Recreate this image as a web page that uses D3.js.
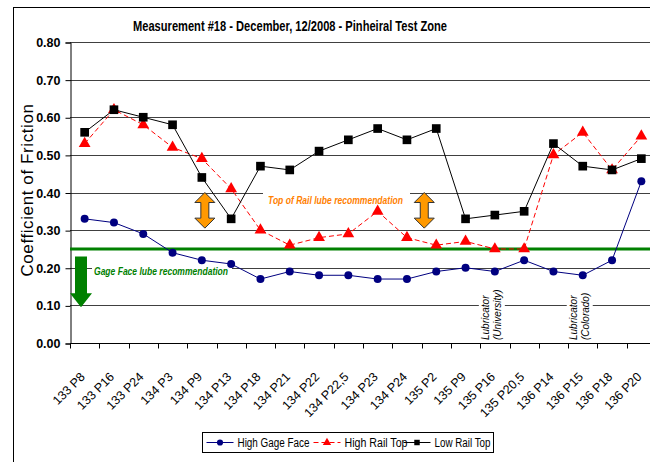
<!DOCTYPE html>
<html>
<head>
<meta charset="utf-8">
<script src="https://cdn.jsdelivr.net/npm/d3@7"></script>
<style>
  body { margin: 0; background: #fff; }
  svg { display: block; font-family: Arial, "Liberation Sans", sans-serif; }
</style>
</head>
<body>
<svg id="chart" width="650" height="462"></svg>
<script>
    // data
    var categories = ["133 P8", "133 P16", "133 P24", "134 P3", "134 P9", "134 P13", "134 P18", "134 P21",
        "134 P22", "134 P22,5", "134 P23", "134 P24", "135 P2", "135 P9", "135 P16", "135 P20,5",
        "136 P14", "136 P15", "136 P18", "136 P20"];
    var highGageFace = [0.33, 0.32, 0.29, 0.24, 0.22, 0.21, 0.17, 0.19, 0.18, 0.18, 0.17, 0.17, 0.19, 0.20, 0.19, 0.22, 0.19, 0.18, 0.22, 0.43];
    var highRailTop = [0.53, 0.62, 0.58, 0.52, 0.49, 0.41, 0.30, 0.26, 0.28, 0.29, 0.35, 0.28, 0.26, 0.27, 0.25, 0.25, 0.50, 0.56, 0.46, 0.55];
    var lowRailTop = [0.56, 0.62, 0.60, 0.58, 0.44, 0.33, 0.47, 0.46, 0.51, 0.54, 0.57, 0.54, 0.57, 0.33, 0.34, 0.35, 0.53, 0.47, 0.46, 0.49];
    var yTicks = [0, 0.1, 0.2, 0.3, 0.4, 0.5, 0.6, 0.7, 0.8];
    var gageLimit = 0.25;
    var railBand = [0.30, 0.40];
    var lubricators = [{ cat: "135 P16", name: "(University)" }, { cat: "136 P15", name: "(Colorado)" }];

    var plotLeft = 70, plotRight = 656, plotTop = 42, plotBottom = 343;

    var svg = d3.select("#chart");

    // outer chart border
    svg.append("rect")
        .attr("x", 13.5).attr("y", 7.5)
        .attr("width", 700).attr("height", 500)
        .style("fill", "none").style("stroke", "#000").style("stroke-width", 1);

    var x = d3.scaleBand().domain(categories).range([plotLeft, plotRight]);
    var y = d3.scaleLinear().domain([0, 0.8]).range([plotBottom, plotTop]);
    var cx = function (c) { return x(c) + x.bandwidth() / 2; };

    // title (narrow font squeezed to width)
    svg.append("text")
        .attr("x", 133).attr("y", 31)
        .attr("textLength", 314).attr("lengthAdjust", "spacingAndGlyphs")
        .style("font-weight", "bold")
        .style("font-size", "15px")
        .text("Measurement #18 - December, 12/2008 - Pinheiral Test Zone");

    // grid lines
    svg.append("g").selectAll("line")
        .data(yTicks.filter(function (d) { return d > 0; }))
        .enter().append("line")
        .attr("x1", plotLeft).attr("x2", plotRight)
        .attr("y1", function (d) { return Math.round(y(d)) + 0.5; })
        .attr("y2", function (d) { return Math.round(y(d)) + 0.5; })
        .style("stroke", "#404040").style("stroke-width", 1);

    // y axis
    var yAxis = svg.append("g")
        .attr("transform", "translate(" + (plotLeft + 0.5) + ",0.5)")
        .call(d3.axisLeft(y).tickValues(yTicks).tickFormat(d3.format(".2f")).tickSizeOuter(0).tickSize(5).tickPadding(5));
    yAxis.select(".domain").style("stroke", "#000");
    yAxis.selectAll("line").style("stroke", "#000");
    yAxis.selectAll("text")
        .style("font-family", "Arial, sans-serif")
        .style("font-weight", "bold")
        .style("font-size", "12.5px")
        .style("fill", "#000");

    // x axis with ticks on band edges
    var xAxis = svg.append("g")
        .attr("transform", "translate(0," + (plotBottom + 0.5) + ")");
    xAxis.append("line")
        .attr("x1", plotLeft).attr("x2", plotRight)
        .style("stroke", "#000");
    xAxis.selectAll("line.tick")
        .data(categories)
        .enter().append("line")
        .attr("class", "tick")
        .attr("x1", function (d) { return Math.round(x(d)) + 0.5; })
        .attr("x2", function (d) { return Math.round(x(d)) + 0.5; })
        .attr("y1", 0).attr("y2", 5)
        .style("stroke", "#000");
    xAxis.selectAll("text")
        .data(categories)
        .enter().append("text")
        .attr("transform", function (d) { return "translate(" + (cx(d) - 2) + ",31) rotate(-45)"; })
        .attr("text-anchor", "end")
        .attr("dy", "0.35em")
        .style("font-size", "12.5px")
        .text(function (d) { return d; });

    // y axis title
    svg.append("text")
        .attr("transform", "translate(33,190) rotate(-90)")
        .attr("text-anchor", "middle")
        .style("font-size", "17px")
        .style("letter-spacing", "0.6px")
        .text("Coefficient of Friction");

    // gage face limit
    svg.append("line")
        .attr("x1", plotLeft).attr("x2", plotRight)
        .attr("y1", y(gageLimit)).attr("y2", y(gageLimit))
        .style("stroke", "#008000").style("stroke-width", 3);

    // green down arrow
    var ga = { x: 81, y0: y(0.23), y1: y(0.095) };
    svg.append("path")
        .attr("d", "M" + (ga.x - 6) + "," + ga.y0 + "H" + (ga.x + 6) + "V" + (ga.y1 - 14) +
            "H" + (ga.x + 11) + "L" + ga.x + "," + ga.y1 + "L" + (ga.x - 11) + "," + (ga.y1 - 14) +
            "H" + (ga.x - 6) + "Z")
        .style("fill", "#008000");

    // gage face label with white box
    svg.append("rect")
        .attr("x", 92).attr("y", y(0.215))
        .attr("width", 140).attr("height", 17)
        .style("fill", "#fff");
    svg.append("text")
        .attr("x", 94).attr("y", y(0.18))
        .attr("textLength", 134).attr("lengthAdjust", "spacingAndGlyphs")
        .style("font-style", "italic").style("font-weight", "bold")
        .style("font-size", "11px")
        .style("fill", "#008000")
        .text("Gage Face lube recommendation");

    // top of rail label with white box
    svg.append("rect")
        .attr("x", 263).attr("y", y(0.405))
        .attr("width", 147).attr("height", 18)
        .style("fill", "#fff");
    svg.append("text")
        .attr("x", 268).attr("y", y(0.37))
        .attr("textLength", 135).attr("lengthAdjust", "spacingAndGlyphs")
        .style("font-style", "italic").style("font-weight", "bold")
        .style("font-size", "11px")
        .style("fill", "#ff8000")
        .text("Top of Rail lube recommendation");

    // orange double arrows
    [cx("134 P9") + 3, cx("135 P2") - 12].forEach(function (ax) {
        var t = y(railBand[1]), b = y(railBand[0]) - 2;
        svg.append("path")
            .attr("d", "M" + ax + "," + t + "L" + (ax + 10) + "," + (t + 10) + "H" + (ax + 4) +
                "V" + (b - 10) + "H" + (ax + 10) + "L" + ax + "," + b + "L" + (ax - 10) + "," + (b - 10) +
                "H" + (ax - 4) + "V" + (t + 10) + "H" + (ax - 10) + "Z")
            .style("fill", "#ff9900").style("stroke", "#333").style("stroke-width", 1);
    });

    // lubricator notes
    lubricators.forEach(function (l) {
        var g = svg.append("g")
            .attr("transform", "translate(" + (cx(l.cat) - 6) + "," + (plotBottom - 3) + ") rotate(-90)");
        g.append("rect").attr("x", 0).attr("y", -10).attr("width", 50).attr("height", 26).style("fill", "#fff");
        g.append("text").attr("x", 0).attr("y", 0)
            .style("font-style", "italic").style("font-size", "10px")
            .text("Lubricator");
        g.append("text").attr("x", 0).attr("y", 12)
            .style("font-style", "italic").style("font-size", "10px")
            .text(l.name);
    });

    // series
    var series = [
        { name: "High Gage Face", values: highGageFace, color: "#000080", dash: null, symbol: d3.symbolCircle, size: 50, width: 72 },
        { name: "High Rail Top", values: highRailTop, color: "#ff0000", dash: "5,3", symbol: d3.symbolTriangle, size: 60, width: 63 },
        { name: "Low Rail Top", values: lowRailTop, color: "#000000", dash: null, symbol: d3.symbolSquare, size: 75, width: 56 }
    ];

    var line = d3.line()
        .x(function (d, i) { return cx(categories[i]); })
        .y(function (d) { return y(d); });

    series.forEach(function (s) {
        svg.append("path")
            .datum(s.values)
            .attr("d", line)
            .style("fill", "none")
            .style("stroke", s.color)
            .style("stroke-width", 1)
            .style("stroke-dasharray", s.dash);
        svg.append("g").selectAll("path")
            .data(s.values)
            .enter().append("path")
            .attr("transform", function (d, i) { return "translate(" + cx(categories[i]) + "," + y(d) + ")"; })
            .attr("d", d3.symbol(s.symbol, s.size))
            .style("fill", s.color);
    });

    // legend
    var legend = svg.append("g").attr("transform", "translate(202.5,432.5)");
    legend.append("rect").attr("width", 291).attr("height", 20)
        .style("fill", "#fff").style("stroke", "#000");
    var legendX = [4, 111, 201];
    series.forEach(function (s, i) {
        var gx = legendX[i];
        legend.append("line")
            .attr("x1", gx).attr("x2", gx + 27).attr("y1", 10).attr("y2", 10)
            .style("stroke", s.color).style("stroke-dasharray", s.dash);
        legend.append("path")
            .attr("transform", "translate(" + (gx + 13.5) + ",10)")
            .attr("d", d3.symbol(s.symbol, 30))
            .style("fill", s.color);
        legend.append("text")
            .attr("x", gx + 31).attr("y", 14)
            .attr("textLength", s.width).attr("lengthAdjust", "spacingAndGlyphs")
            .style("font-size", "12px")
            .text(s.name);
    });
</script>
</body>
</html>
